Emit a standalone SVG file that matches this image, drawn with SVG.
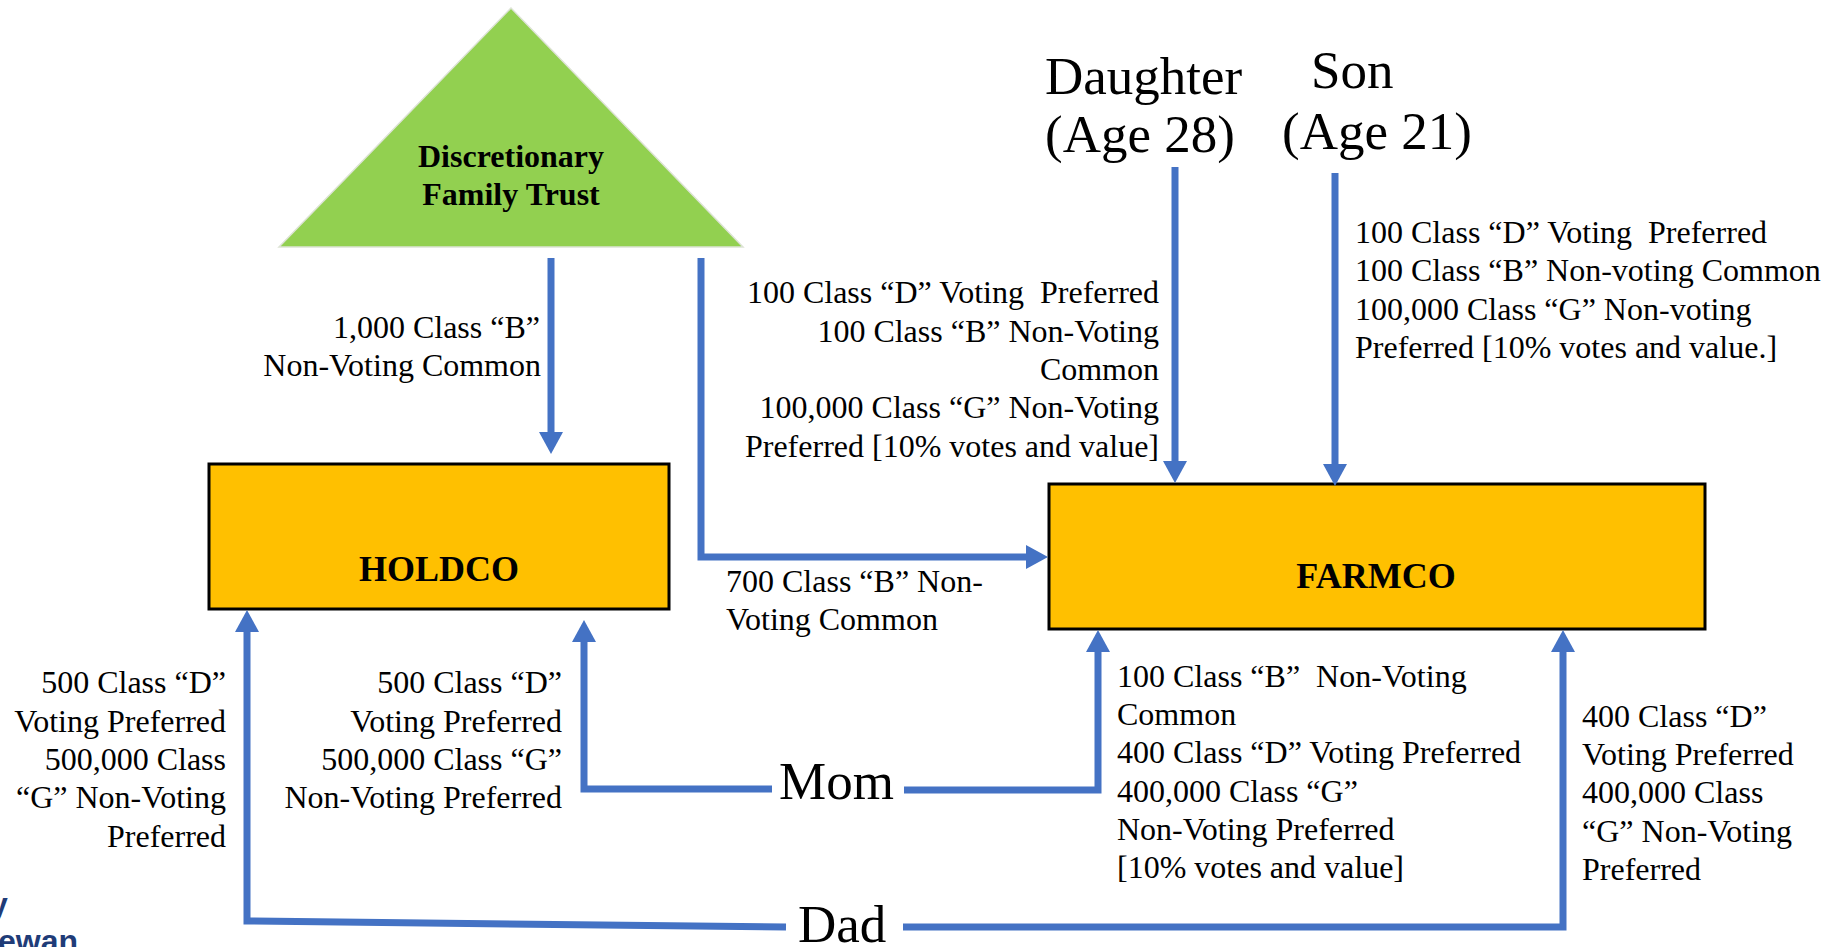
<svg xmlns="http://www.w3.org/2000/svg" width="1834" height="947" viewBox="0 0 1834 947">
<style>
text{font-family:"Liberation Serif","Times New Roman",serif;fill:#000;white-space:pre}
.lbl{font-size:32px}
.big{font-size:53px}
.bold{font-weight:bold}
.box{fill:#FFC000;stroke:#000;stroke-width:3}
.conn{fill:none;stroke:#4472C4;stroke-width:7;stroke-linejoin:miter}
.logo{font-family:"Liberation Sans",Arial,sans-serif;font-weight:bold;font-size:32px;fill:#1F3C78}
</style>
<defs>
<marker id="ah" markerUnits="userSpaceOnUse" markerWidth="24" markerHeight="24" viewBox="0 0 22 24" refX="12" refY="12" orient="auto">
<path d="M0,0 L22,12 L0,24 z" fill="#4472C4"/>
</marker>
</defs>
<rect width="1834" height="947" fill="#fff"/>

<g id="trust">
<polygon points="511,8 279,247 743,247" fill="#92D050" stroke="#DDE3D5" stroke-width="1.5"/>
<text class="bold" x="511" y="167" font-size="32" text-anchor="middle">Discretionary</text>
<text class="bold" x="511" y="205" font-size="32" text-anchor="middle">Family Trust</text>
</g>

<g id="holdco">
<rect class="box" x="209" y="464" width="460" height="145"/>
<text class="bold" x="439" y="581" font-size="36" text-anchor="middle">HOLDCO</text>
</g>

<g id="farmco">
<rect class="box" x="1049" y="484" width="656" height="145"/>
<text class="bold" x="1376" y="588" font-size="36" text-anchor="middle">FARMCO</text>
</g>

<g id="daughter">
<text class="big" x="1045" y="94">Daughter</text>
<text class="big" x="1045" y="152">(Age 28)</text>
</g>

<g id="son">
<text class="big" x="1311" y="88">Son</text>
<text class="big" x="1282" y="149">(Age 21)</text>
</g>

<g id="mom">
<text class="big" x="779" y="799">Mom</text>
</g>

<g id="dad">
<text class="big" x="798" y="942">Dad</text>
</g>

<g id="connectors">
<path class="conn" marker-end="url(#ah)" d="M551,258 V444"/>
<path class="conn" marker-end="url(#ah)" d="M701,258 V557 H1038"/>
<path class="conn" marker-end="url(#ah)" d="M1175,167 V473"/>
<path class="conn" marker-end="url(#ah)" d="M1335,173 V476"/>
<path class="conn" marker-end="url(#ah)" d="M772,789 H584 V630"/>
<path class="conn" marker-end="url(#ah)" d="M904,790 H1098 V640"/>
<path class="conn" marker-end="url(#ah)" d="M786,927 L247,921 V620"/>
<path class="conn" marker-end="url(#ah)" d="M903,927 H1563 V640"/>
</g>

<g id="labels">
<text class="lbl" text-anchor="end" x="540" y="338">1,000 Class “B”</text>
<text class="lbl" text-anchor="end" x="541" y="376">Non-Voting Common</text>

<text class="lbl" text-anchor="end" x="1159" y="303">100 Class “D” Voting  Preferred</text>
<text class="lbl" text-anchor="end" x="1159" y="342">100 Class “B” Non-Voting</text>
<text class="lbl" text-anchor="end" x="1159" y="380">Common</text>
<text class="lbl" text-anchor="end" x="1159" y="418">100,000 Class “G” Non-Voting</text>
<text class="lbl" text-anchor="end" x="1159" y="457">Preferred [10% votes and value]</text>

<text class="lbl" x="1355" y="243">100 Class “D” Voting  Preferred</text>
<text class="lbl" x="1355" y="281">100 Class “B” Non-voting Common</text>
<text class="lbl" x="1355" y="320">100,000 Class “G” Non-voting</text>
<text class="lbl" x="1355" y="358">Preferred [10% votes and value.]</text>

<text class="lbl" x="726" y="592">700 Class “B” Non-</text>
<text class="lbl" x="726" y="630">Voting Common</text>

<text class="lbl" text-anchor="end" x="226" y="693">500 Class “D”</text>
<text class="lbl" text-anchor="end" x="226" y="732">Voting Preferred</text>
<text class="lbl" text-anchor="end" x="226" y="770">500,000 Class</text>
<text class="lbl" text-anchor="end" x="226" y="808">“G” Non-Voting</text>
<text class="lbl" text-anchor="end" x="226" y="847">Preferred</text>

<text class="lbl" text-anchor="end" x="562" y="693">500 Class “D”</text>
<text class="lbl" text-anchor="end" x="562" y="732">Voting Preferred</text>
<text class="lbl" text-anchor="end" x="562" y="770">500,000 Class “G”</text>
<text class="lbl" text-anchor="end" x="562" y="808">Non-Voting Preferred</text>

<text class="lbl" x="1117" y="687">100 Class “B”  Non-Voting</text>
<text class="lbl" x="1117" y="725">Common</text>
<text class="lbl" x="1117" y="763">400 Class “D” Voting Preferred</text>
<text class="lbl" x="1117" y="802">400,000 Class “G”</text>
<text class="lbl" x="1117" y="840">Non-Voting Preferred</text>
<text class="lbl" x="1117" y="878">[10% votes and value]</text>

<text class="lbl" x="1582" y="727">400 Class “D”</text>
<text class="lbl" x="1582" y="765">Voting Preferred</text>
<text class="lbl" x="1582" y="803">400,000 Class</text>
<text class="lbl" x="1582" y="842">“G” Non-Voting</text>
<text class="lbl" x="1582" y="880">Preferred</text>
</g>

<g id="logo">
<text class="logo" x="-10" y="915">y</text>
<text class="logo" x="-2" y="952">ewan</text>
</g>
</svg>
